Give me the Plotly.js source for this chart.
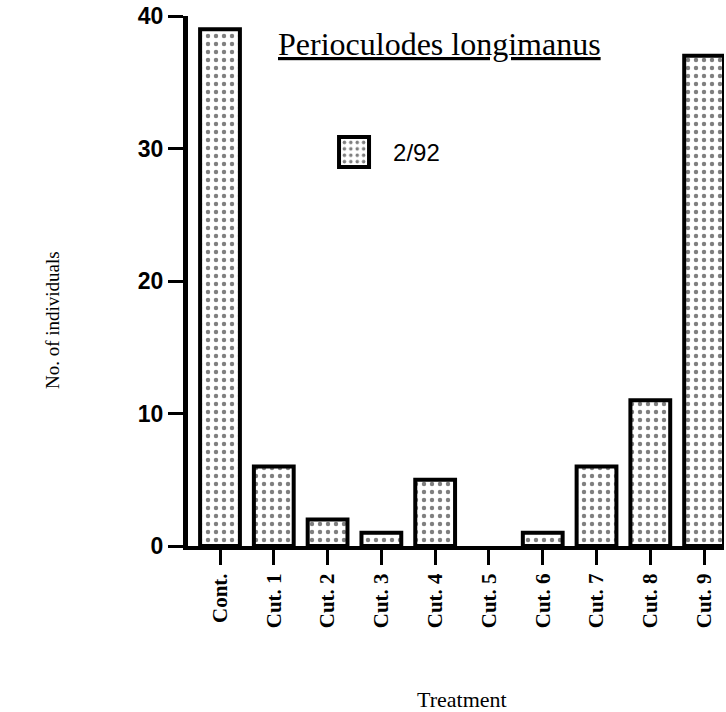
<!DOCTYPE html>
<html>
<head>
<meta charset="utf-8">
<script src="https://cdn.plot.ly/plotly-3.0.1.min.js"></script>
<style>html,body{margin:0;padding:0;background:#fff;}#chart{width:726px;height:712px;}</style>
</head>
<body>
<div id="chart"></div>
<script>
const categories = ["Cont.", "Cut. 1", "Cut. 2", "Cut. 3", "Cut. 4", "Cut. 5", "Cut. 6", "Cut. 7", "Cut. 8", "Cut. 9"];
const values = [39, 6, 2, 1, 5, 0, 1, 6, 11, 37];
const seriesName = "2/92";
const yTicks = [0, 10, 20, 30, 40];

const trace = {
  type: "bar",
  x: categories,
  y: values,
  name: seriesName,
  width: 0.74,
  marker: {
    color: "#ffffff",
    line: {color: "#000000", width: values.map(v => v === 0 ? 0 : 4)},
    pattern: {shape: ".", fgcolor: "#000000", bgcolor: "#ffffff", size: 8, solidity: 0.24, fillmode: "overlay"}
  },
  showlegend: true
};

const layout = {
  width: 726, height: 712,
  margin: {l: 188, r: 2, t: 16, b: 166},
  paper_bgcolor: "#ffffff", plot_bgcolor: "#ffffff",
  showlegend: true,
  legend: {
    x: 0.237, y: 0.785, xanchor: "left", yanchor: "top",
    font: {family: "Liberation Sans, Arial, sans-serif", size: 24, color: "#000"},
    bgcolor: "rgba(0,0,0,0)", itemwidth: 68
  },
  xaxis: {
    type: "category",
    range: [-0.595, 9.37],
    showline: true, linecolor: "#000", linewidth: 4,
    ticks: "outside", ticklen: 15, tickwidth: 3, tickcolor: "#000",
    tickangle: -90,
    tickfont: {family: "Liberation Serif, Times New Roman, serif", size: 21, color: "#000", weight: "bold"},
    showgrid: false, zeroline: false, fixedrange: true
  },
  yaxis: {
    range: [0, 40],
    tickvals: yTicks,
    ticktext: yTicks.map(String),
    showline: true, linecolor: "#000", linewidth: 5,
    ticks: "outside", ticklen: 15, tickwidth: 3, tickcolor: "#000",
    tickfont: {family: "Liberation Sans, Arial, sans-serif", size: 23, color: "#000", weight: "bold"},
    showgrid: false, zeroline: false, fixedrange: true
  },
  annotations: [
    {text: "<u>Perioculodes longimanus</u>", xref: "paper", yref: "paper", x: 0.47, y: 0.947,
     xanchor: "center", yanchor: "middle", showarrow: false,
     font: {family: "Liberation Serif, Times New Roman, serif", size: 32, color: "#000"}},
    {text: "No. of individuals", xref: "paper", yref: "paper", x: -0.254, y: 0.426,
     xanchor: "center", yanchor: "middle", textangle: -90, showarrow: false,
     font: {family: "Liberation Serif, Times New Roman, serif", size: 19, color: "#000"}},
    {text: "Treatment", xref: "paper", yref: "paper", x: 0.511, y: -0.289,
     xanchor: "center", yanchor: "middle", showarrow: false,
     font: {family: "Liberation Serif, Times New Roman, serif", size: 22, color: "#000"}}
  ]
};

Plotly.newPlot("chart", [trace], layout, {staticPlot: true, displayModeBar: false}).then(function(gd){
  // enlarge the legend swatch to match the reference's bigger key box
  gd.querySelectorAll(".legend .legendpoints path").forEach(function(p){
    p.setAttribute("d", "M15,15H-15V-15H15Z");
    p.style.strokeWidth = "4px";
  });
});
</script>
</body>
</html>
